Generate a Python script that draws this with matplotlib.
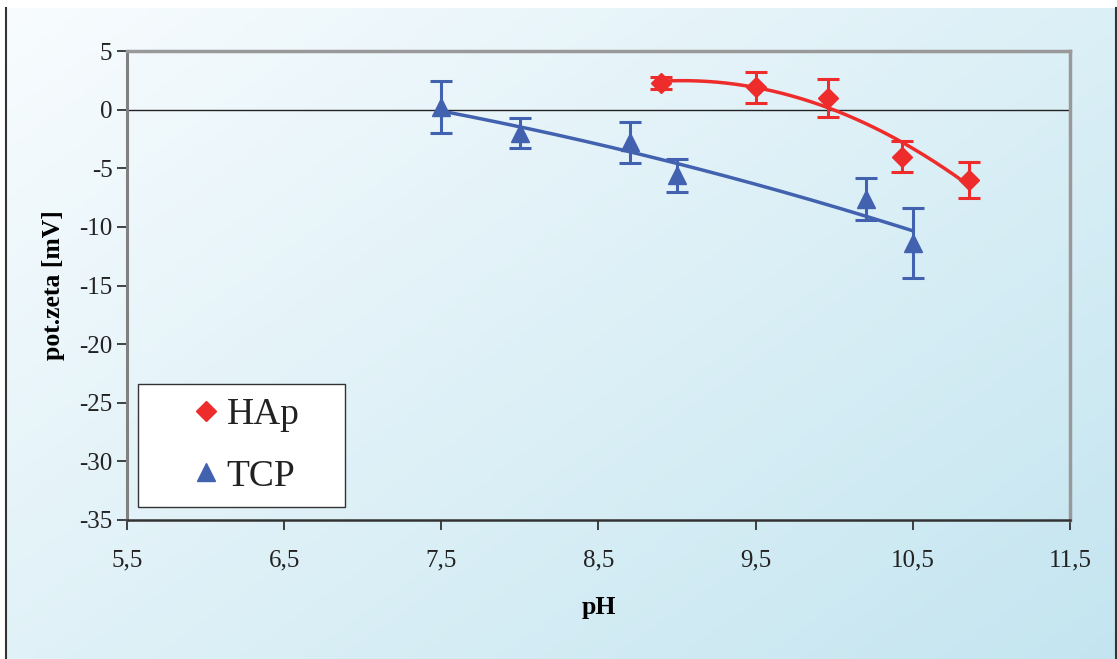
import numpy as np
import matplotlib.pyplot as plt
from matplotlib.lines import Line2D

# data
hap_ph = [8.9, 9.5, 9.96, 10.43, 10.86]
hap_zeta = [2.3, 1.9, 1.0, -4.0, -6.0]
hap_err = [0.5, 1.3, 1.65, 1.3, 1.55]

tcp_ph = [7.5, 8.0, 8.7, 9.0, 10.2, 10.5]
tcp_zeta = [0.2, -2.0, -2.8, -5.6, -7.6, -11.4]
tcp_err = [2.2, 1.3, 1.75, 1.4, 1.8, 3.0]

x_ticks = [5.5, 6.5, 7.5, 8.5, 9.5, 10.5, 11.5]
y_ticks = [-35, -30, -25, -20, -15, -10, -5, 0, 5]

red = '#ee2c2c'
blue = '#4262b0'

plt.rcParams['font.family'] = ['Liberation Serif', 'DejaVu Serif']
plt.rcParams['axes.unicode_minus'] = False

fig = plt.figure(figsize=(11.17, 6.59), dpi=100)

# diagonal gradient background
bg = fig.add_axes([5 / 1117, 0, 1110 / 1117, 651 / 659], zorder=-10)
gx, gy = np.meshgrid(np.linspace(0, 1, 300), np.linspace(0, 1, 200))
t = np.clip(0.55 * gx + 0.45 * gy, 0, 1)
c0 = np.array([248, 252, 254]) / 255
c1 = np.array([196, 229, 240]) / 255
img = c0[None, None, :] * (1 - t[..., None]) + c1[None, None, :] * t[..., None]
bg.imshow(img, aspect='auto', extent=[0, 1, 1, 0])
bg.set_axis_off()
fig.add_artist(Line2D([5.5 / 1117, 5.5 / 1117], [0, 651 / 659], color='#333333', lw=1.5))
fig.add_artist(Line2D([1115.5 / 1117, 1115.5 / 1117], [0, 651 / 659], color='#333333', lw=1.5))

ax = fig.add_axes([127 / 1117, 1 - 520 / 659, 943 / 1117, 469 / 659])
ax.patch.set_alpha(0)

ax.axhline(0, color='#222222', lw=1.0, zorder=1)

# polynomial trend lines (Excel-style)
for xs, ys, col in [(hap_ph, hap_zeta, red), (tcp_ph, tcp_zeta, blue)]:
    p = np.polyfit(xs, ys, 2)
    xx = np.linspace(min(xs), max(xs), 200)
    ax.plot(xx, np.polyval(p, xx), color=col, lw=2.5, zorder=2)

ax.errorbar(hap_ph, hap_zeta, yerr=hap_err, fmt='D', color=red, ms=10,
            elinewidth=2.2, capsize=8, capthick=2.2, zorder=3)
ax.errorbar(tcp_ph, tcp_zeta, yerr=tcp_err, fmt='^', color=blue, ms=13,
            elinewidth=2.2, capsize=8, capthick=2.2, zorder=3)

ax.set_xlim(5.5, 11.5)
ax.set_ylim(-35, 5)
ax.set_xticks(x_ticks)
ax.set_xticklabels([f'{v:.1f}'.replace('.', ',') for v in x_ticks])
ax.set_yticks(y_ticks)
ax.tick_params(labelsize=18, length=7, width=1.2, direction='out', colors='#222222')
ax.tick_params(axis='x', pad=14)

for side in ['top', 'right']:
    ax.spines[side].set_color('#999999')
    ax.spines[side].set_linewidth(2.5)
ax.spines['left'].set_color('#808080')
ax.spines['left'].set_linewidth(2.2)
ax.spines['bottom'].set_color('#333333')
ax.spines['bottom'].set_linewidth(1.8)

ax.set_xlabel('pH', fontsize=18.5, fontweight='bold', labelpad=18)
ax.set_ylabel('pot.zeta [mV]', fontsize=18.5, fontweight='bold', labelpad=10)

handles = [Line2D([], [], marker='D', color=red, ls='none', ms=10),
           Line2D([], [], marker='^', color=blue, ls='none', ms=13)]
leg = ax.legend(handles, ['HAp', 'TCP'], loc='lower left',
                bbox_to_anchor=(11 / 943, 13 / 469, 207 / 943, 122 / 469),
                mode='expand', borderaxespad=0,
                fontsize=27, frameon=True, fancybox=False, framealpha=1,
                edgecolor='#333333', handletextpad=-0.9, handlelength=2.9,
                borderpad=0.36, labelspacing=0.72)
leg.get_frame().set_linewidth(1.0)
for txt in leg.get_texts():
    txt.set_color('#222222')

fig.savefig('out.png', dpi=100)
